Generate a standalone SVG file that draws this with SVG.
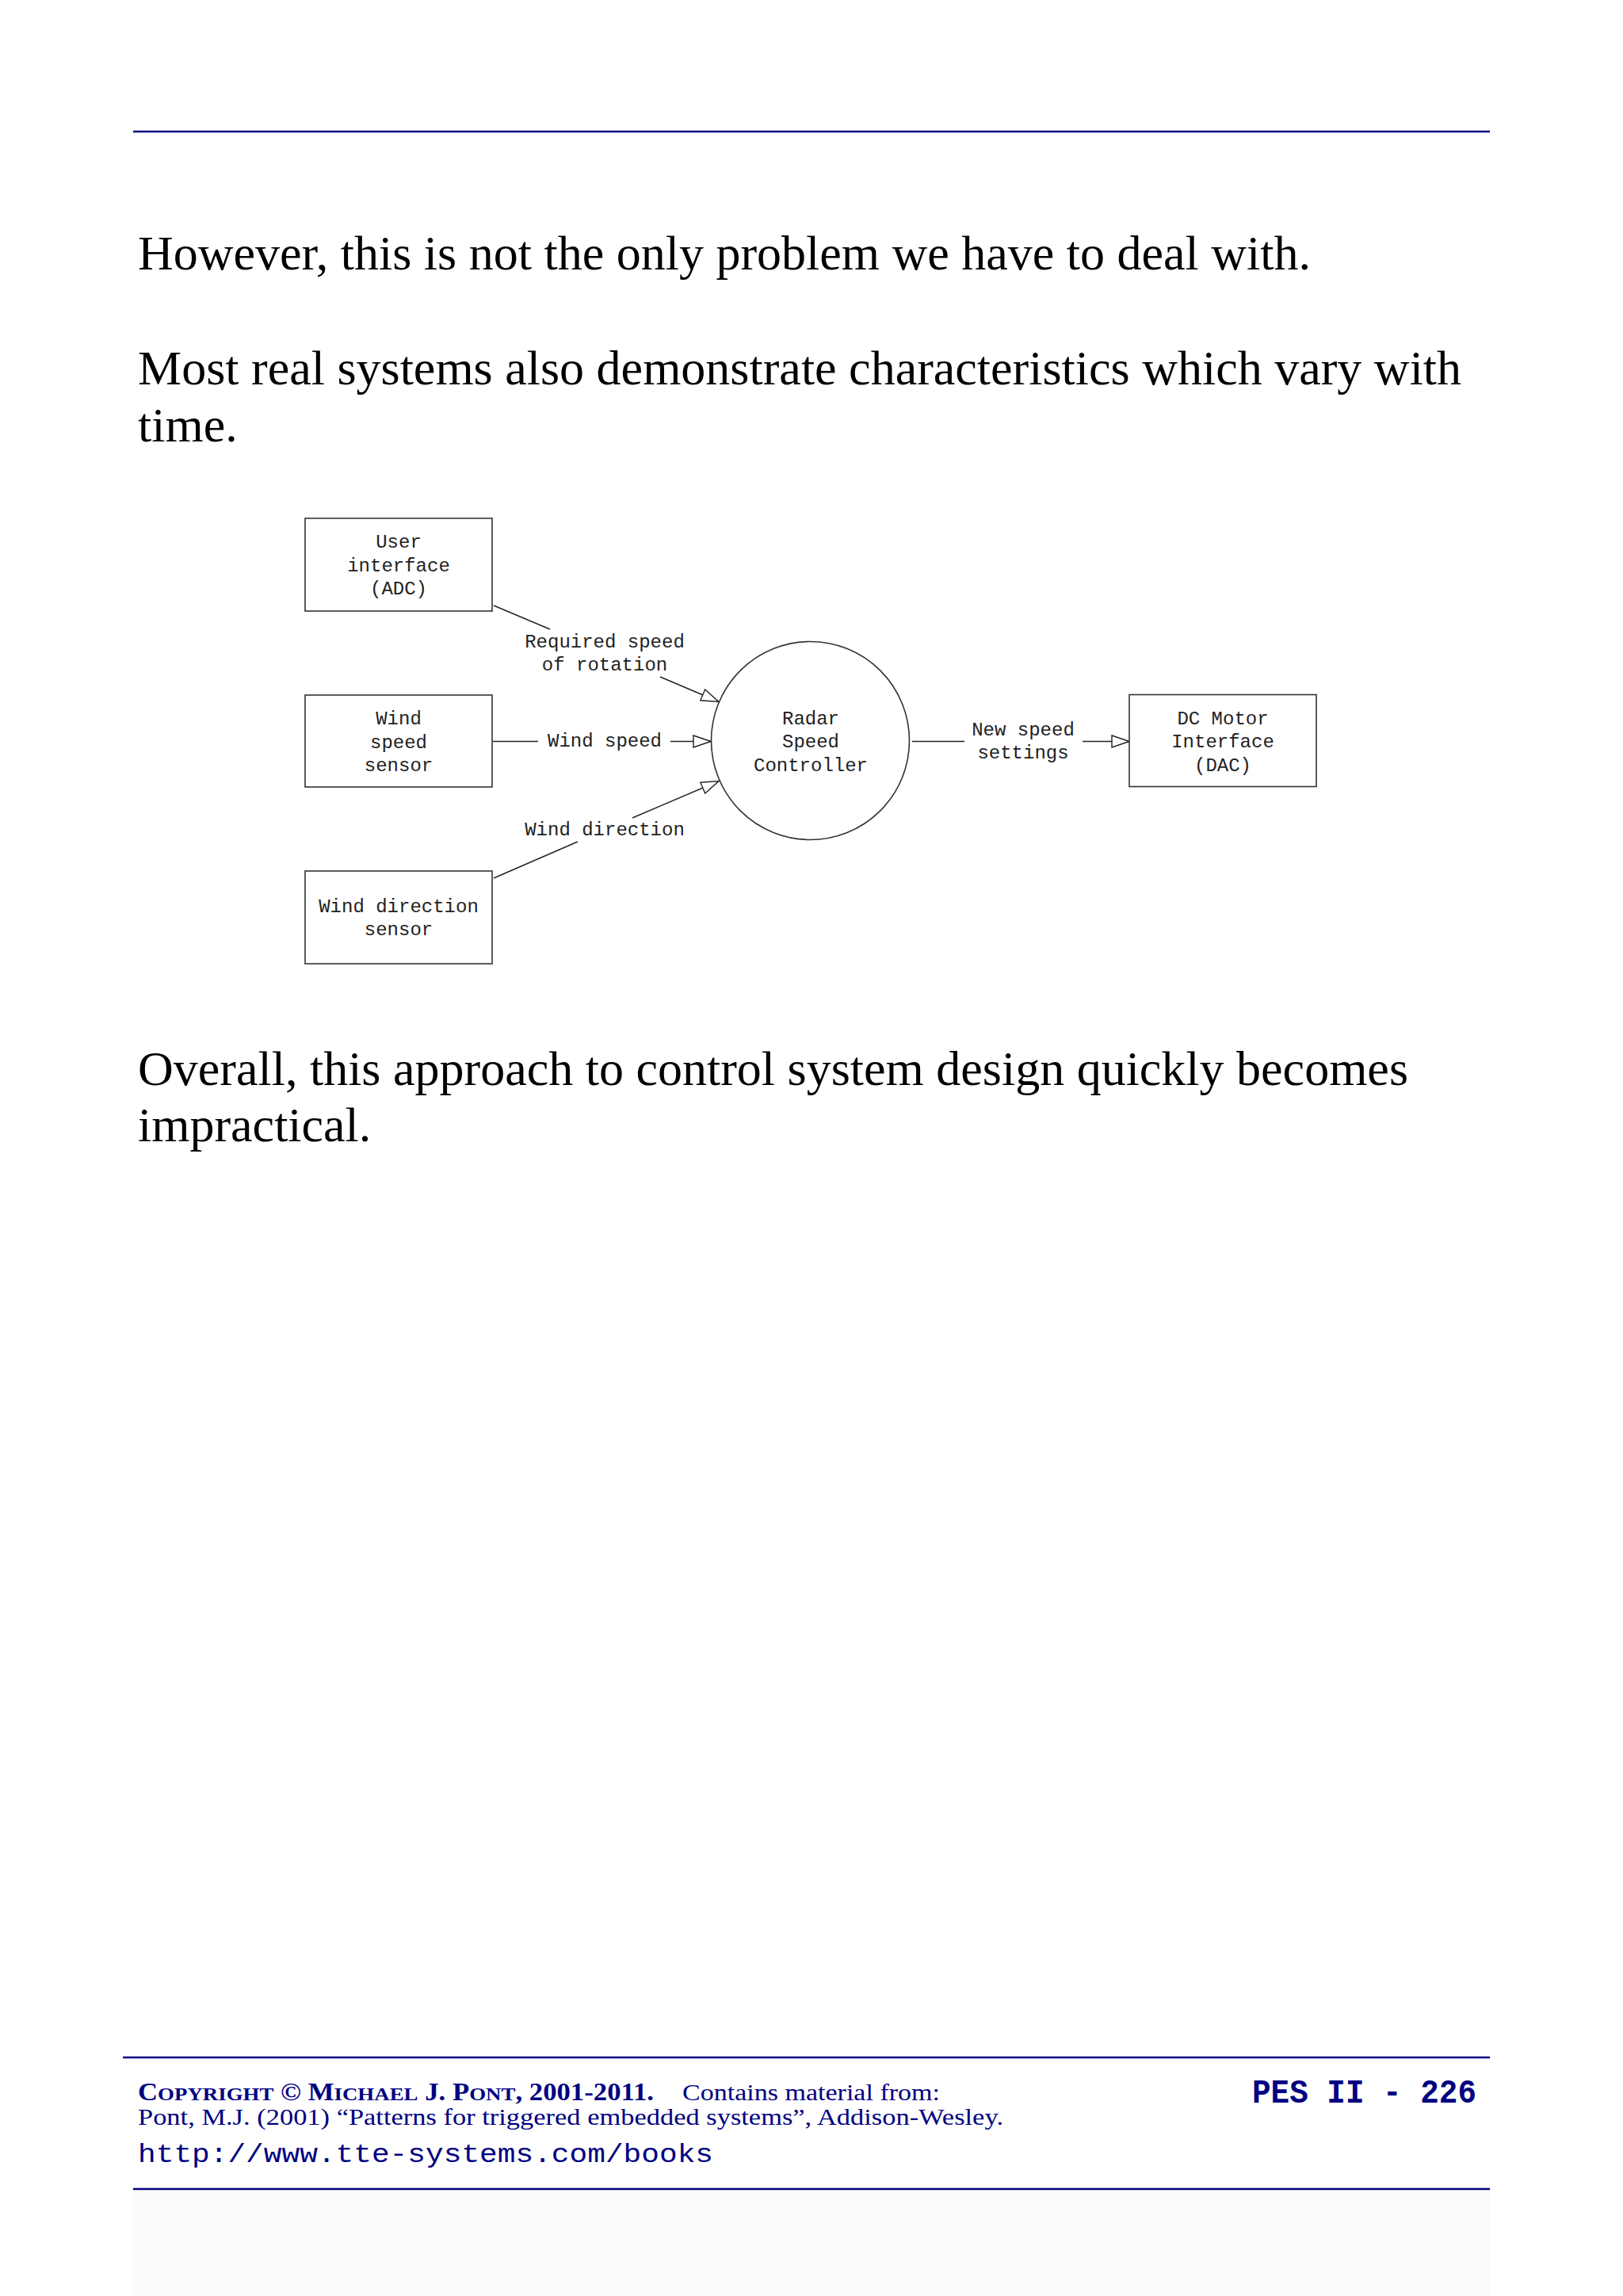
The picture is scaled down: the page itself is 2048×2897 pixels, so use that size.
<svg xmlns="http://www.w3.org/2000/svg" width="2048" height="2897" viewBox="0 0 2048 2897">
<style>
.body{font-family:"Liberation Serif","Times New Roman",serif;font-size:62px;fill:#000}
.mono{font-family:"Liberation Mono","Courier New",monospace;font-size:24px;fill:#222;text-anchor:middle}
.box{fill:#fff;stroke:#333;stroke-width:1.6}
.conn{stroke:#222;stroke-width:1.4;fill:none}
.rule{stroke:#000080;stroke-width:2.6}
.foot{font-family:"Liberation Serif","Times New Roman",serif;fill:#000080}
</style>
<defs>
<marker id="arr" markerUnits="userSpaceOnUse" markerWidth="24" markerHeight="17" refX="22" refY="7.5" orient="auto" viewBox="-1 -1 24 17">
<path d="M0,0 L22,7.5 L0,15 Z" fill="#fff" stroke="#222" stroke-width="1.4"/>
</marker>
</defs>
<rect width="2048" height="2897" fill="#fff"/>
<rect x="168" y="2764" width="1712" height="133" fill="#fcfcfc"/>
<line class="rule" x1="168" y1="166" x2="1880" y2="166"/>
<text class="body" x="174" y="340">However, this is not the only problem we have to deal with.</text>
<text class="body" x="174" y="485">Most real systems also demonstrate characteristics which vary with</text>
<text class="body" x="174" y="557">time.</text>

<g id="connectors">
<line class="conn" x1="623" y1="764" x2="694" y2="794"/>
<line class="conn" x1="833" y1="854" x2="907" y2="885.5" marker-end="url(#arr)"/>
<text class="mono" x="763" y="817">Required speed</text>
<text class="mono" x="763" y="846">of rotation</text>
<line class="conn" x1="622" y1="935.5" x2="679" y2="935.5"/>
<line class="conn" x1="846" y1="935.5" x2="897" y2="935.5" marker-end="url(#arr)"/>
<text class="mono" x="763" y="942">Wind speed</text>
<line class="conn" x1="623" y1="1108" x2="729" y2="1062"/>
<line class="conn" x1="798" y1="1032" x2="907" y2="985.5" marker-end="url(#arr)"/>
<text class="mono" x="763" y="1054">Wind direction</text>
<line class="conn" x1="1151" y1="935.5" x2="1217" y2="935.5"/>
<line class="conn" x1="1366" y1="935.5" x2="1425" y2="935.5" marker-end="url(#arr)"/>
<text class="mono" x="1291" y="928">New speed</text>
<text class="mono" x="1291" y="957">settings</text>
</g>

<g id="user-interface">
<rect class="box" x="385" y="654" width="236" height="117"/>
<text class="mono" x="503" y="691">User</text>
<text class="mono" x="503" y="720.5">interface</text>
<text class="mono" x="503" y="750">(ADC)</text>
</g>
<g id="wind-speed-sensor">
<rect class="box" x="385" y="877" width="236" height="116"/>
<text class="mono" x="503" y="914">Wind</text>
<text class="mono" x="503" y="943.5">speed</text>
<text class="mono" x="503" y="973">sensor</text>
</g>
<g id="wind-direction-sensor">
<rect class="box" x="385" y="1099" width="236" height="117"/>
<text class="mono" x="503" y="1151">Wind direction</text>
<text class="mono" x="503" y="1180">sensor</text>
</g>
<g id="radar-speed-controller">
<circle class="box" cx="1022.5" cy="934.5" r="125"/>
<text class="mono" x="1023" y="913.5">Radar</text>
<text class="mono" x="1023" y="943">Speed</text>
<text class="mono" x="1023" y="972.5">Controller</text>
</g>
<g id="dc-motor-interface">
<rect class="box" x="1425" y="876.5" width="236" height="116"/>
<text class="mono" x="1543" y="913.5">DC Motor</text>
<text class="mono" x="1543" y="943">Interface</text>
<text class="mono" x="1543" y="972.5">(DAC)</text>
</g>

<text class="body" x="174" y="1369">Overall, this approach to control system design quickly becomes</text>
<text class="body" x="174" y="1440">impractical.</text>

<line class="rule" x1="155" y1="2596" x2="1880" y2="2596"/>
<text class="foot" x="174" y="2650" font-weight="bold" textLength="651" lengthAdjust="spacingAndGlyphs"><tspan font-size="31">C</tspan><tspan font-size="24">OPYRIGHT</tspan><tspan font-size="31"> © M</tspan><tspan font-size="24">ICHAEL</tspan><tspan font-size="31"> J. P</tspan><tspan font-size="24">ONT</tspan><tspan font-size="31">, 2001-2011.</tspan></text>
<text class="foot" x="861" y="2650" font-size="29" textLength="325" lengthAdjust="spacingAndGlyphs">Contains material from:</text>
<text class="foot" x="174" y="2681" font-size="29" textLength="1092" lengthAdjust="spacingAndGlyphs">Pont, M.J. (2001) “Patterns for triggered embedded systems”, Addison-Wesley.</text>
<text x="174" y="2728" font-family="'Liberation Mono','Courier New',monospace" font-size="34" fill="#000080" textLength="726" lengthAdjust="spacingAndGlyphs">http://www.tte-systems.com/books</text>
<text x="1580" y="2653" font-family="'Liberation Mono','Courier New',monospace" font-weight="bold" font-size="42" fill="#000080" textLength="283" lengthAdjust="spacingAndGlyphs">PES II - 226</text>
<line class="rule" x1="168" y1="2762" x2="1880" y2="2762"/>
</svg>
